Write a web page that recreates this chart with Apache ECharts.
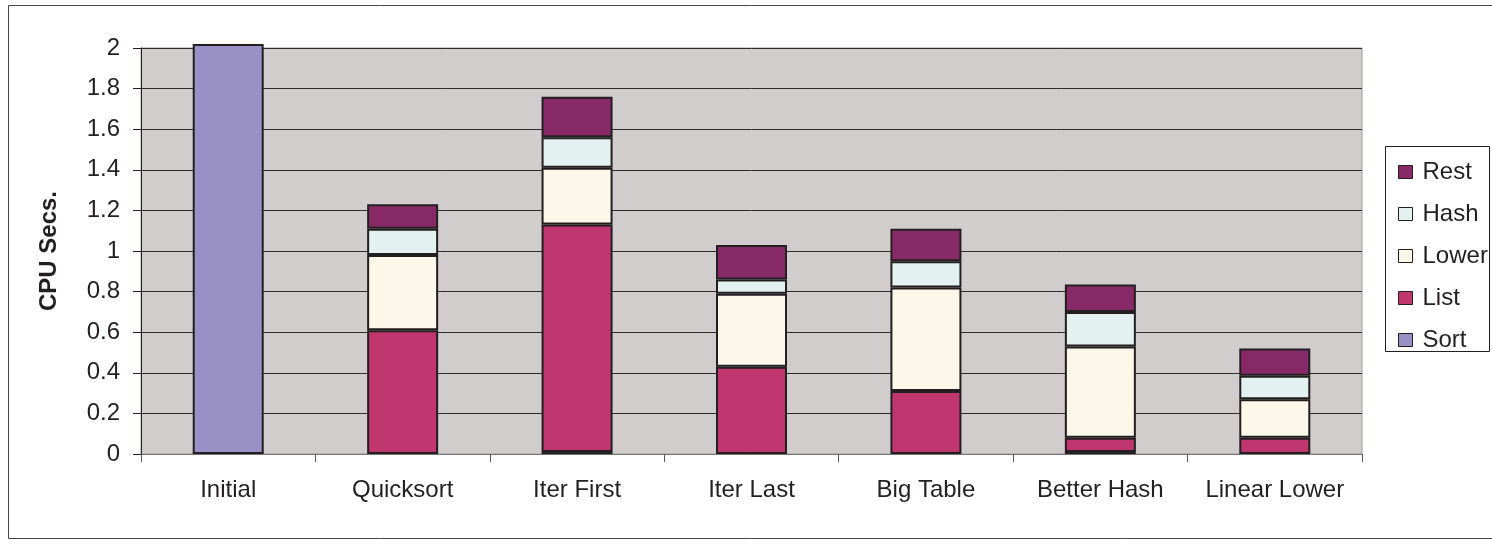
<!DOCTYPE html>
<html>
<head>
<meta charset="utf-8">
<title>CPU Secs.</title>
<script src="https://cdn.jsdelivr.net/npm/echarts@6/dist/echarts.min.js"></script>
<style>
  html, body { margin: 0; padding: 0; background: #fff; }
  #main { width: 1492px; height: 540px; }
</style>
</head>
<body>
<div id="main"></div>
<script>
// categories on the x axis
var categories = ['Initial', 'Quicksort', 'Iter First', 'Iter Last', 'Big Table', 'Better Hash', 'Linear Lower'];

// stacked pieces, bottom to top (null = no piece)
var sortVals  = [2.02, null, 0.01, null, null, 0.01, null];
var listVals  = [null, 0.61, 1.12, 0.43, 0.31, 0.07, 0.08];
var lowerVals = [null, 0.37, 0.28, 0.36, 0.51, 0.45, 0.19];
var hashVals  = [null, 0.13, 0.15, 0.07, 0.13, 0.17, 0.115];
var restVals  = [null, 0.12, 0.20, 0.17, 0.16, 0.135, 0.135];

// y ticks 0 .. 2 step 0.2
var yMin = 0, yMax = 2, yStep = 0.2;

var legendOrder = ['Rest', 'Hash', 'Lower', 'List', 'Sort'];

var ink = '#231F20';
var fontFam = '"Liberation Sans", Arial, sans-serif';

function piece(name, vals, color) {
    return {
        name: name,
        type: 'bar',
        stack: 'cpu',
        barWidth: 71,
        clip: false,
        data: vals,
        itemStyle: {
            color: color,
            borderColor: ink,
            borderWidth: 2
        },
        emphasis: { disabled: true }
    };
}

var myChart = echarts.init(document.getElementById('main'));
myChart.setOption({
    animation: false,
    textStyle: { fontFamily: fontFam, color: ink },
    grid: {
        left: 141,
        right: 130,
        top: 48,
        bottom: 86,
        show: true,
        backgroundColor: '#D1CDCD',
        borderColor: '#A39C9C',
        borderWidth: 1
    },
    legend: {
        orient: 'vertical',
        left: 1393,
        top: 155,
        itemWidth: 14,
        itemHeight: 13,
        itemGap: 18,
        icon: 'rect',
        data: legendOrder,
        itemStyle: { borderColor: ink, borderWidth: 1 },
        textStyle: {
            fontSize: 24,
            lineHeight: 24,
            color: ink,
            fontFamily: fontFam,
            padding: [0, 0, 0, 5]
        },
        selectedMode: false
    },
    xAxis: {
        type: 'category',
        data: categories,
        axisLine: { lineStyle: { color: '#7A7474', width: 1 } },
        axisTick: { show: true, interval: 0, length: 8, lineStyle: { color: '#5A5454' } },
        axisLabel: { interval: 0, fontSize: 24, color: ink, margin: 24, fontFamily: fontFam }
    },
    yAxis: {
        type: 'value',
        min: yMin,
        max: yMax,
        interval: yStep,
        name: 'CPU Secs.',
        nameLocation: 'middle',
        nameRotate: 90,
        nameGap: 80,
        nameTextStyle: { fontSize: 24, fontWeight: 'bold', color: ink, fontFamily: fontFam },
        axisLine: { show: true, lineStyle: { color: ink, width: 1 } },
        axisTick: { show: true, length: 8, lineStyle: { color: ink } },
        axisLabel: { fontSize: 24, color: ink, margin: 21, fontFamily: fontFam },
        splitLine: { show: true, lineStyle: { color: '#2E2A2B', width: 1 } }
    },
    // outer frame and legend frame
    graphic: [
        {
            type: 'rect',
            shape: { x: 8.5, y: 5.5, width: 1490, height: 533 },
            style: { fill: null, stroke: '#4A4646', lineWidth: 1 },
            z: -1
        },
        {
            type: 'rect',
            shape: { x: 1385.5, y: 146.5, width: 104, height: 205 },
            style: { fill: '#fff', stroke: ink, lineWidth: 1 },
            z: -1
        }
    ],
    series: [
        piece('Sort', sortVals, '#9991C6'),
        piece('List', listVals, '#C0366F'),
        piece('Lower', lowerVals, '#FBF8EA'),
        piece('Hash', hashVals, '#E3F1F1'),
        piece('Rest', restVals, '#882A67')
    ]
});
</script>
</body>
</html>
